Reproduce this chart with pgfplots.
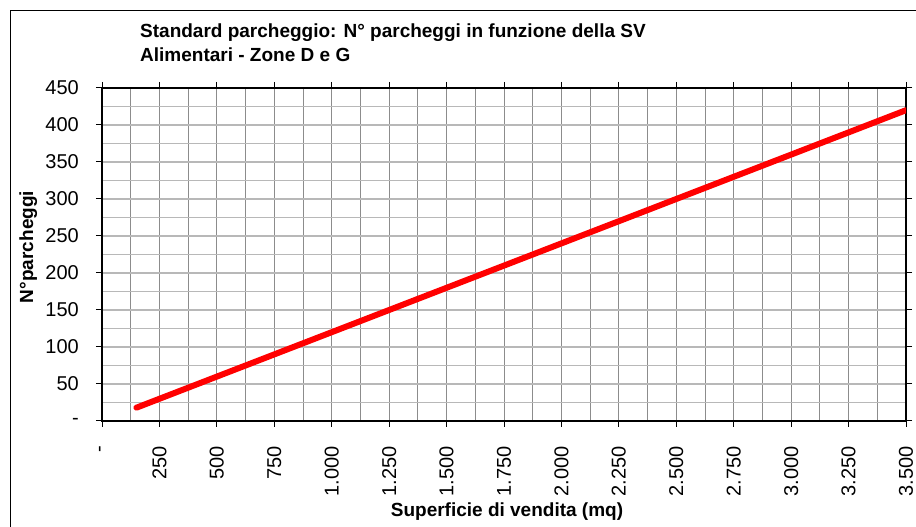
\documentclass[border=0pt]{standalone}
\usepackage{pgfplots}
\pgfplotsset{compat=1.18}
\usepackage{fontspec}
\setmainfont{Liberation Sans}
\definecolor{vgrid}{HTML}{8C8C8C}
\definecolor{hgrid}{HTML}{B8B8B8}
\begin{document}
\begin{tikzpicture}
\useasboundingbox (0pt,0pt) rectangle (916pt,527pt);
\draw[line width=1.4pt] (10.5pt,-5pt) -- (10.5pt,516.5pt) -- (930pt,516.5pt);
\begin{axis}[
  at={(102pt,106pt)}, anchor=south west,
  width=804pt, height=333pt, scale only axis,
  xmin=0, xmax=3500, ymin=0, ymax=450,
  xtick={0,250,...,3500},
  xticklabels={-,250,500,750,{1.000},{1.250},{1.500},{1.750},{2.000},{2.250},{2.500},{2.750},{3.000},{3.250},{3.500}},
  ytick={0,50,...,450},
  yticklabels={-,50,100,150,200,250,300,350,400,450},
  minor x tick num=1, minor y tick num=1,
  grid=both,
  major x grid style={vgrid, line width=1pt},
  minor x grid style={vgrid, line width=1pt},
  major y grid style={hgrid, line width=1.2pt},
  minor y grid style={hgrid, line width=1.2pt},
  tick align=outside,
  major tick length=6pt, minor tick length=0pt,
  tick style={black, line width=1pt},
  axis line style={black, line width=1.2pt},
  ticklabel style={font=\fontsize{20}{24}\selectfont},
  xticklabel style={rotate=90, anchor=east, inner sep=0pt, xshift=0pt},
  xticklabel shift=19pt,
  yticklabel style={anchor=east, inner sep=0pt},
  yticklabel shift=17pt,
]
\addplot[red, line width=6pt, line cap=round] coordinates {
(150,18) (250,30) (500,60) (750,90) (1000,120) (1250,150) (1500,180)
(1750,210) (2000,240) (2250,270) (2500,300) (2750,330) (3000,360)
(3250,390) (3500,420)};
\end{axis}
\node[anchor=base west, font=\bfseries\fontsize{19}{23}\selectfont, inner sep=0pt] at (140pt,489pt) {Standard parcheggio: N° parcheggi in funzione della SV};
\node[anchor=base west, font=\bfseries\fontsize{19}{23}\selectfont, inner sep=0pt] at (140pt,465.5pt) {Alimentari - Zone D e G};
\node[anchor=base, font=\bfseries\fontsize{19}{23}\selectfont, inner sep=0pt] at (507pt,10pt) {Superficie di vendita (mq)};
\node[rotate=90, anchor=base, font=\bfseries\fontsize{19}{23}\selectfont, inner sep=0pt] at (33pt,280pt) {N°parcheggi};
\end{tikzpicture}
\end{document}
